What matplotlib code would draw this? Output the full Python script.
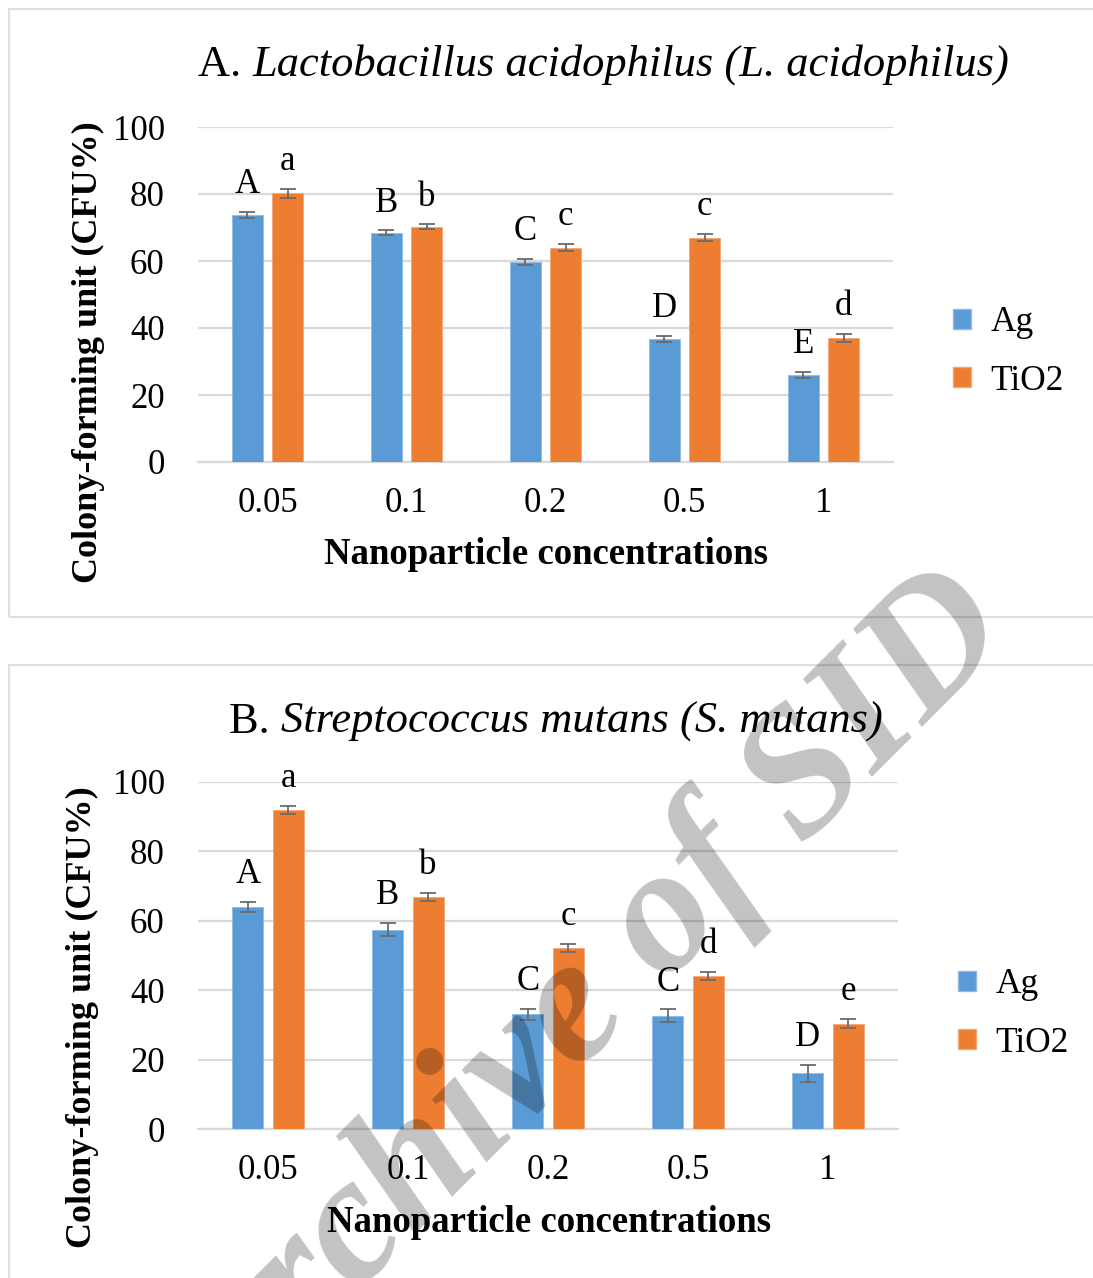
import numpy as np
import matplotlib.pyplot as plt
from matplotlib.patches import Patch, Rectangle

plt.rcParams['font.family'] = ['Liberation Serif', 'DejaVu Serif']

concentrations = ['0.05', '0.1', '0.2', '0.5', '1']
series_names = ['Ag', 'TiO2']

# panel A: L. acidophilus
a_ag = [73.8, 68.5, 59.7, 36.8, 26.0]
a_ag_err = [0.9, 0.65, 1.0, 0.95, 1.0]
a_tio2 = [80.2, 70.2, 64.0, 67.0, 37.1]
a_tio2_err = [1.4, 0.75, 1.1, 1.15, 1.25]
a_ag_letters = ['A', 'B', 'C', 'D', 'E']
a_tio2_letters = ['a', 'b', 'c', 'c', 'd']

# panel B: S. mutans
b_ag = [64.1, 57.4, 33.0, 32.7, 16.0]
b_ag_err = [1.45, 1.9, 1.7, 1.8, 2.55]
b_tio2 = [91.9, 66.9, 52.3, 44.1, 30.4]
b_tio2_err = [1.2, 1.15, 1.15, 1.2, 1.35]
b_ag_letters = ['A', 'B', 'C', 'C', 'D']
b_tio2_letters = ['a', 'b', 'c', 'd', 'e']

C_AG = '#5b9bd5'
C_TI = '#ed7d31'
GRID = '#d9d9d9'
W, H = 1093, 1278


def fx(px):
    return px / W


def fy(py):
    return 1 - py / H


def draw_panel(ax, ag, ag_err, ti, ti_err, ag_lab, ti_lab):
    x = np.arange(len(concentrations))
    off, bw = 0.144, 0.223
    err_kw = dict(ecolor='#6b6b6b', elinewidth=1.3, capsize=5.5, capthick=1.3)
    ax.bar(x - off, ag, bw, color=C_AG, yerr=ag_err, error_kw=err_kw, zorder=3,
           edgecolor='#8dbbe6', linewidth=0.6)
    ax.bar(x + off, ti, bw, color=C_TI, yerr=ti_err, error_kw=err_kw, zorder=3,
           edgecolor='#f4a77a', linewidth=0.6)
    for xs, vals, errs, labs in [(x - off, ag, ag_err, ag_lab), (x + off, ti, ti_err, ti_lab)]:
        for xi, v, e, t in zip(xs, vals, errs, labs):
            ax.annotate(t, (xi, v + e), xytext=(0, 13.5), textcoords='offset points',
                        ha='center', va='baseline', fontsize=25)
    ax.set_xlim(-0.5, len(concentrations) - 0.5)
    ax.set_ylim(0, 100)
    ax.set_yticks(range(0, 101, 20))
    ax.set_xticks(x)
    ax.set_xticklabels(concentrations)
    ax.yaxis.grid(True, color=GRID, linewidth=1.6, zorder=0)
    ax.set_axisbelow(True)
    for s in ['top', 'right', 'left']:
        ax.spines[s].set_visible(False)
    ax.spines['bottom'].set_color(GRID)
    ax.spines['bottom'].set_linewidth(1.6)
    ax.tick_params(axis='both', length=0, labelsize=25)
    ax.tick_params(axis='y', pad=24)
    ax.tick_params(axis='x', pad=18)


fig = plt.figure(figsize=(W / 100, H / 100), dpi=100)

# panel frames
fig.patches.append(Rectangle((fx(9), fy(617)), fx(1200), fy(9) - fy(617),
                             transform=fig.transFigure, fill=False,
                             edgecolor='#dedede', linewidth=1.6))
fig.patches.append(Rectangle((fx(9), fy(1400)), fx(1200), fy(665) - fy(1400),
                             transform=fig.transFigure, fill=False,
                             edgecolor='#dedede', linewidth=1.6))

ax1 = fig.add_axes([fx(198), fy(462), fx(893) - fx(198), fy(127) - fy(462)])
draw_panel(ax1, a_ag, a_ag_err, a_tio2, a_tio2_err, a_ag_letters, a_tio2_letters)
ax2 = fig.add_axes([fx(198), fy(1129), fx(898) - fx(198), fy(782) - fy(1129)])
draw_panel(ax2, b_ag, b_ag_err, b_tio2, b_tio2_err, b_ag_letters, b_tio2_letters)

# titles: plain prefix + italic name
for prefix, name, px, py in [('A. ', 'Lactobacillus acidophilus (L. acidophilus)', 198, 76),
                             ('B. ', 'Streptococcus mutans (S. mutans)', 229, 733)]:
    t0 = fig.text(fx(px), fy(py), prefix, fontsize=32, va='baseline', ha='left')
    fig.draw_without_rendering()
    t1 = fig.text(0, 0, name, fontsize=32, style='italic', va='baseline', ha='left')
    bb = t0.get_window_extent()
    t1.set_position((bb.x1 / fig.bbox.width, fy(py)))

# axis labels
fig.text(fx(88), fy(352), 'Colony-forming unit (CFU%)', rotation=90, fontsize=26,
         fontweight='bold', ha='center', va='center')
fig.text(fx(546), fy(555), 'Nanoparticle concentrations', fontsize=26.5,
         fontweight='bold', ha='center', va='center')
fig.text(fx(82), fy(1017), 'Colony-forming unit (CFU%)', rotation=90, fontsize=26,
         fontweight='bold', ha='center', va='center')
fig.text(fx(549), fy(1222), 'Nanoparticle concentrations', fontsize=26.5,
         fontweight='bold', ha='center', va='center')

# legends
handles = [Patch(facecolor=C_AG, edgecolor='#8dbbe6'), Patch(facecolor=C_TI, edgecolor='#f4a77a')]
for cx, cy in [(953, 352), (958, 1014)]:
    fig.legend(handles, series_names, loc='center left', bbox_to_anchor=(fx(cx), fy(cy)),
               frameon=False, fontsize=25.5, handlelength=0.5, handleheight=0.5,
               handletextpad=0.55, labelspacing=0.72, borderpad=0, borderaxespad=0)

# watermark
fig.text(fx(590), fy(1005), 'Archive of SID', fontsize=130, fontweight='bold',
         style='italic', rotation=45, ha='center', va='center', color='black',
         alpha=0.24, zorder=10)

fig.savefig('out.png', dpi=100)
